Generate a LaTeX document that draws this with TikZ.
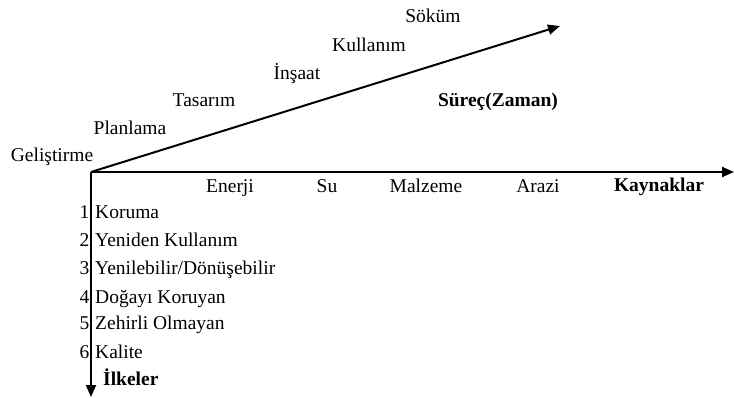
\documentclass[tikz,border=0pt]{standalone}
\usepackage{fontspec}
\setmainfont{Liberation Serif}
\usetikzlibrary{arrows.meta}
\begin{document}
\begin{tikzpicture}[x=1pt,y=-1pt,
  lbl/.style={font=\fontsize{19.5}{22}\selectfont, inner sep=0pt, anchor=base},
  blbl/.style={lbl, font=\fontsize{19.5}{22}\selectfont\bfseries},
  axis/.style={line width=2pt, -{Triangle[length=12pt,width=10pt]}}]
\useasboundingbox (0,0) rectangle (734,398);
\coordinate (O) at (91,172);
\coordinate (T) at (560,26);
\coordinate (R) at (734,172);
\coordinate (D) at (91,397);
\draw[axis] (O) -- (T);
\draw[axis] (O) -- (R);
\draw[axis] (O) -- (D);
% process stages
\node[lbl] (gel) at (52,162) {Geliştirme};
\node[lbl] (pla) at (130,135) {Planlama};
\node[lbl] (tas) at (204,107) {Tasarım};
\node[lbl] (ins) at (297,80) {İnşaat};
\node[lbl] (kul) at (369,52) {Kullanım};
\node[lbl] (sok) at (433,23) {Söküm};
\node[blbl] (sur) at (498,107) {Süreç(Zaman)};
% resources
\node[lbl] (ene) at (230,193) {Enerji};
\node[lbl] (su) at (327,193) {Su};
\node[lbl] (mal) at (426,193) {Malzeme};
\node[lbl] (ara) at (538,193) {Arazi};
\node[blbl] (kay) at (659,192) {Kaynaklar};
% principles
\foreach \n/\t/\y in {1/Koruma/219, 2/Yeniden Kullanım/247, 3/Yenilebilir\slash Dönüşebilir/275, 4/Doğayı Koruyan/303, 5/Zehirli Olmayan/330, 6/Kalite/358}{
  \node[lbl, anchor=base east] (n\n) at (89.5,\y) {\n};
  \node[lbl, anchor=base west] (p\n) at (95,\y) {\t};
}
\node[blbl, anchor=base west] (ilk) at (103,385) {İlkeler};
\end{tikzpicture}
\end{document}
